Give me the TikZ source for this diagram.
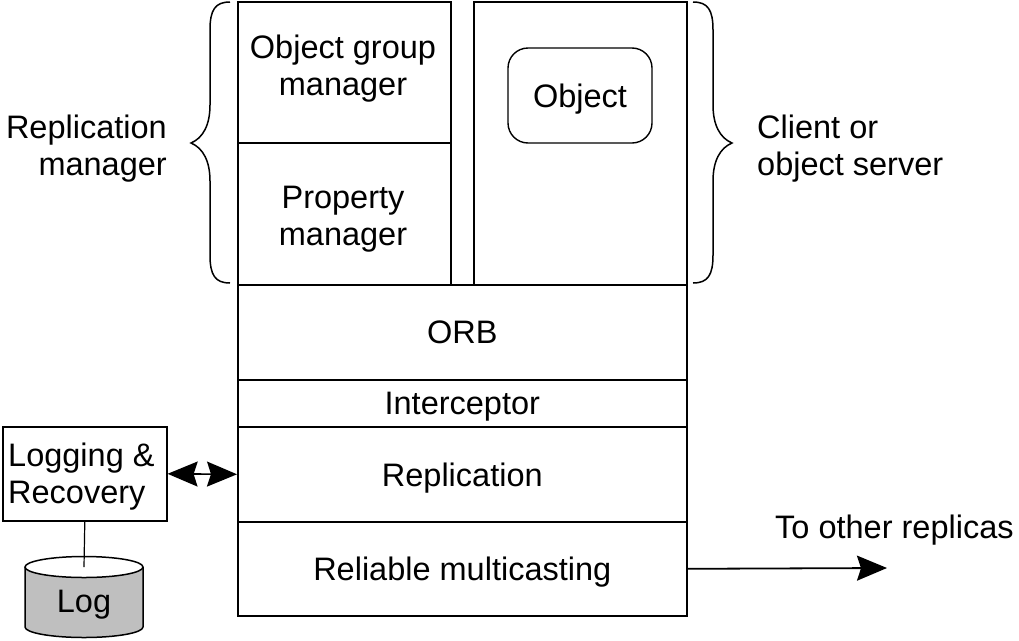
\documentclass[tikz,border=0pt]{standalone}
\usepackage{fontspec}
\setmainfont{Liberation Sans}
\usetikzlibrary{arrows.meta}
\begin{document}
\begin{tikzpicture}[x=1pt,y=-1pt,
  box/.style={draw, line width=1.6pt, inner sep=0pt, text depth=0pt, anchor=north west, font=\fontsize{32.5}{37}\selectfont},
  txt/.style={font=\fontsize{32.5}{37}\selectfont, inner sep=0pt},
  brc/.style={line width=1.5pt},
  bighead/.tip={Stealth[length=30pt,width=25pt,inset=4pt]}]
\useasboundingbox (0,0) rectangle (1019,640);
% upper boxes
\node[box, minimum width=213pt, minimum height=141pt] (ogm) at (237,1) {};
\node[box, minimum width=213pt, minimum height=142pt] (pm) at (237,142) {};
\node[box, minimum width=213pt, minimum height=283pt] (srv) at (473,1) {};
\node[txt, align=center] (ogmt) at (343,69) {Object group\\manager};
\node[txt, align=center] (pmt) at (343,219) {Property\\manager};
\node[draw, line width=1.4pt, rounded corners=20pt, minimum width=144pt, minimum height=95pt, inner sep=0pt, text depth=0pt, font=\fontsize{32.5}{37}\selectfont] (obj) at (580,95.5) {Object};
% layers
\node[box, minimum width=449pt, minimum height=95pt] (orb) at (237,284) {ORB};
\node[box, minimum width=449pt, minimum height=47pt] (icp) at (237,379) {Interceptor};
\node[box, minimum width=449pt, minimum height=95pt] (rep) at (237,426) {Replication};
\node[box, minimum width=449pt, minimum height=94pt] (rmc) at (237,521) {Reliable multicasting};
% side labels
\node[txt, align=right, anchor=east] (rmgr) at (167,149) {Replication\\manager};
\node[txt, align=left, anchor=west] (cos) at (757,149) {Client or\\object server};
% logging box
\node[box, minimum width=164pt, minimum height=94pt] (log) at (2,426) {};
\node[txt, align=left, anchor=west] (logt) at (8,477) {Logging \&\\Recovery};
% cylinder
\fill[black!25] (25,567) -- (25,627) arc[start angle=180,end angle=0,x radius=59,y radius=10.5] -- (143,567) arc[start angle=0,end angle=180,x radius=59,y radius=10.5] -- cycle;
\draw[line width=1.5pt, fill=white] (84,567) ellipse[x radius=59, y radius=10.5];
\draw[line width=1.5pt] (25,567) -- (25,627) arc[start angle=180,end angle=0,x radius=59,y radius=10.5] -- (143,567);
\coordinate (logtop) at (84,567);
\node[txt] (logc) at (84,605) {Log};
\draw[line width=1.2pt] (log.south) -- (logtop);
% arrows
\draw[line width=1.6pt, {bighead}-{bighead}] (log.east) -- (rep.west);
\coordinate (toother) at (887,568);
\draw[line width=1.8pt, -{bighead}] (rmc.east) -- (toother);
\node[txt, anchor=base west] (tot) at (775,538) {To other replicas};
% braces
\draw[brc] (693,2) .. controls (708,2) and (713,10) .. (713,30) -- (713,105) .. controls (713,125) and (720,138) .. (732,143) .. controls (720,148) and (713,161) .. (713,181) -- (713,255) .. controls (713,275) and (708,283) .. (693,283);
\draw[brc] (230,2) .. controls (215,2) and (210,10) .. (210,30) -- (210,105) .. controls (210,125) and (203,138) .. (191,143) .. controls (203,148) and (210,161) .. (210,181) -- (210,255) .. controls (210,275) and (215,283) .. (230,283);
\end{tikzpicture}
\end{document}
